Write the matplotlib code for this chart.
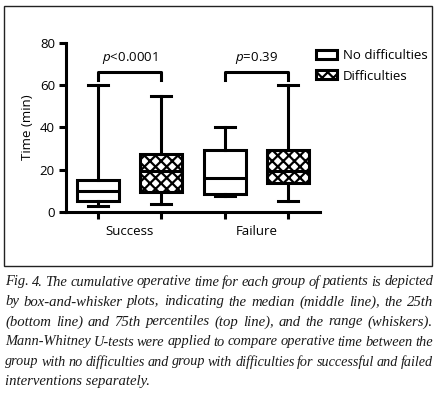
import matplotlib
matplotlib.use("Agg")
from matplotlib import pyplot as plt
from matplotlib.patches import Patch, Rectangle
import numpy as np

plt.rcParams['font.family'] = ['Open Sans', 'DejaVu Sans']
plt.rcParams['mathtext.fontset'] = 'custom'
plt.rcParams['mathtext.it'] = 'Open Sans:italic'
plt.rcParams['mathtext.rm'] = 'Open Sans'
plt.rcParams['hatch.linewidth'] = 1.6

# data (minutes)
groups = ['Success', 'Failure']
series = ['No difficulties', 'Difficulties']
whis_lo = [3, 4, 7.5, 5]
q1 = [5, 9.5, 8.5, 13.5]
median = [10, 19.5, 16, 19.5]
q3 = [15, 27.5, 29.5, 29.5]
whis_hi = [60, 55, 40, 60]
p_labels = ['$p$<0.0001', '$p$=0.39']

caption = [
    "Fig. 4. The cumulative operative time for each group of patients is depicted",
    "by box-and-whisker plots, indicating the median (middle line), the 25th",
    "(bottom line) and 75th percentiles (top line), and the range (whiskers).",
    "Mann-Whitney U-tests were applied to compare operative time between the",
    "group with no difficulties and group with difficulties for successful and failed",
    "interventions separately.",
]

W, H = 441, 393
fig = plt.figure(figsize=(W / 100, H / 100), dpi=100)
ax = fig.add_axes([66 / W, 1 - 212 / H, (320 - 66) / W, (212 - 42.7) / H])

lw = 2.2
stats = []
for i in range(4):
    stats.append(dict(whislo=whis_lo[i], q1=q1[i], med=median[i], q3=q3[i], whishi=whis_hi[i]))
pos = np.arange(1, 5)
bp = ax.bxp(stats, positions=pos, widths=0.66, showfliers=False, patch_artist=True,
            boxprops=dict(linewidth=lw, edgecolor='black', facecolor='white'),
            whiskerprops=dict(linewidth=lw, color='black'),
            capprops=dict(linewidth=lw, color='black'),
            medianprops=dict(linewidth=lw, color='black'),
            capwidths=0.32)
for i, b in enumerate(bp['boxes']):
    if i % 2 == 1:
        b.set_hatch('xxx')

ax.set_xlim(0.5, 4.5)
ax.set_ylim(0, 80)
ax.set_yticks([0, 20, 40, 60, 80])
ax.set_xticks(pos)
ax.set_xticklabels([])
ax.set_xticks([1.5, 3.5], minor=True)
ax.set_xticklabels(groups, minor=True)
ax.tick_params(axis='x', which='minor', length=0, pad=9, labelsize=9.5)
ax.tick_params(axis='x', which='major', length=5, width=lw)
ax.tick_params(axis='y', length=5, width=lw, labelsize=9.5, pad=3)
ax.set_ylabel('Time (min)', fontsize=9.5, labelpad=4)
for s in ['top', 'right']:
    ax.spines[s].set_visible(False)
for s in ['left', 'bottom']:
    ax.spines[s].set_linewidth(lw)

# significance brackets
for g in range(2):
    x0, x1 = pos[2 * g], pos[2 * g + 1]
    ax.plot([x0, x0, x1, x1], [62.5, 66, 66, 62.5], color='black', lw=lw, clip_on=False)
    ax.text((x0 + x1) / 2, 69, p_labels[g], ha='center', va='bottom', fontsize=9.5)

handles = [Patch(facecolor='white', edgecolor='black', linewidth=lw, label=series[0]),
           Patch(facecolor='white', edgecolor='black', linewidth=lw, hatch='xxx', label=series[1])]
fig.legend(handles=handles, loc='upper left', bbox_to_anchor=(311 / W, 1 - 44 / H),
           frameon=False, fontsize=9.5, handlelength=1.55, handleheight=0.65,
           handletextpad=0.45, labelspacing=0.55, borderaxespad=0)

# outer frame
fig.patches.append(Rectangle((4 / W, 1 - 266 / H), 428 / W, 260 / H, transform=fig.transFigure,
                             fill=False, edgecolor='#222222', linewidth=1.0))

# justified caption
cap_font = dict(family='Liberation Serif', style='italic', color='#1a1a1a')
left, right = 5, 433
renderer = fig.canvas.get_renderer()

def width_of(s, size):
    t = fig.text(0.5, 0.5, s, fontsize=size, **cap_font)
    w = t.get_window_extent(renderer).width
    t.remove()
    return w

base = 10.6
space = width_of('n n', base) - width_of('nn', base)

y0 = 282
for li, line in enumerate(caption):
    y = 1 - (y0 + 20 * li) / H
    words = line.split(' ')
    if li == len(caption) - 1:
        fig.text(left / W, y, line, fontsize=base, va='center', ha='left', **cap_font)
        continue
    size = base
    natural = sum(width_of(w, size) for w in words) + 0.75 * space * (len(words) - 1)
    if natural > right - left:
        size = size * (right - left) / natural
    ws = [width_of(w, size) for w in words]
    gap = (right - left - sum(ws)) / (len(words) - 1)
    x = left
    for w, wd in zip(words, ws):
        fig.text(x / W, y, w, fontsize=size, va='center', ha='left', **cap_font)
        x += wd + gap

fig.savefig('out.png', dpi=100)
